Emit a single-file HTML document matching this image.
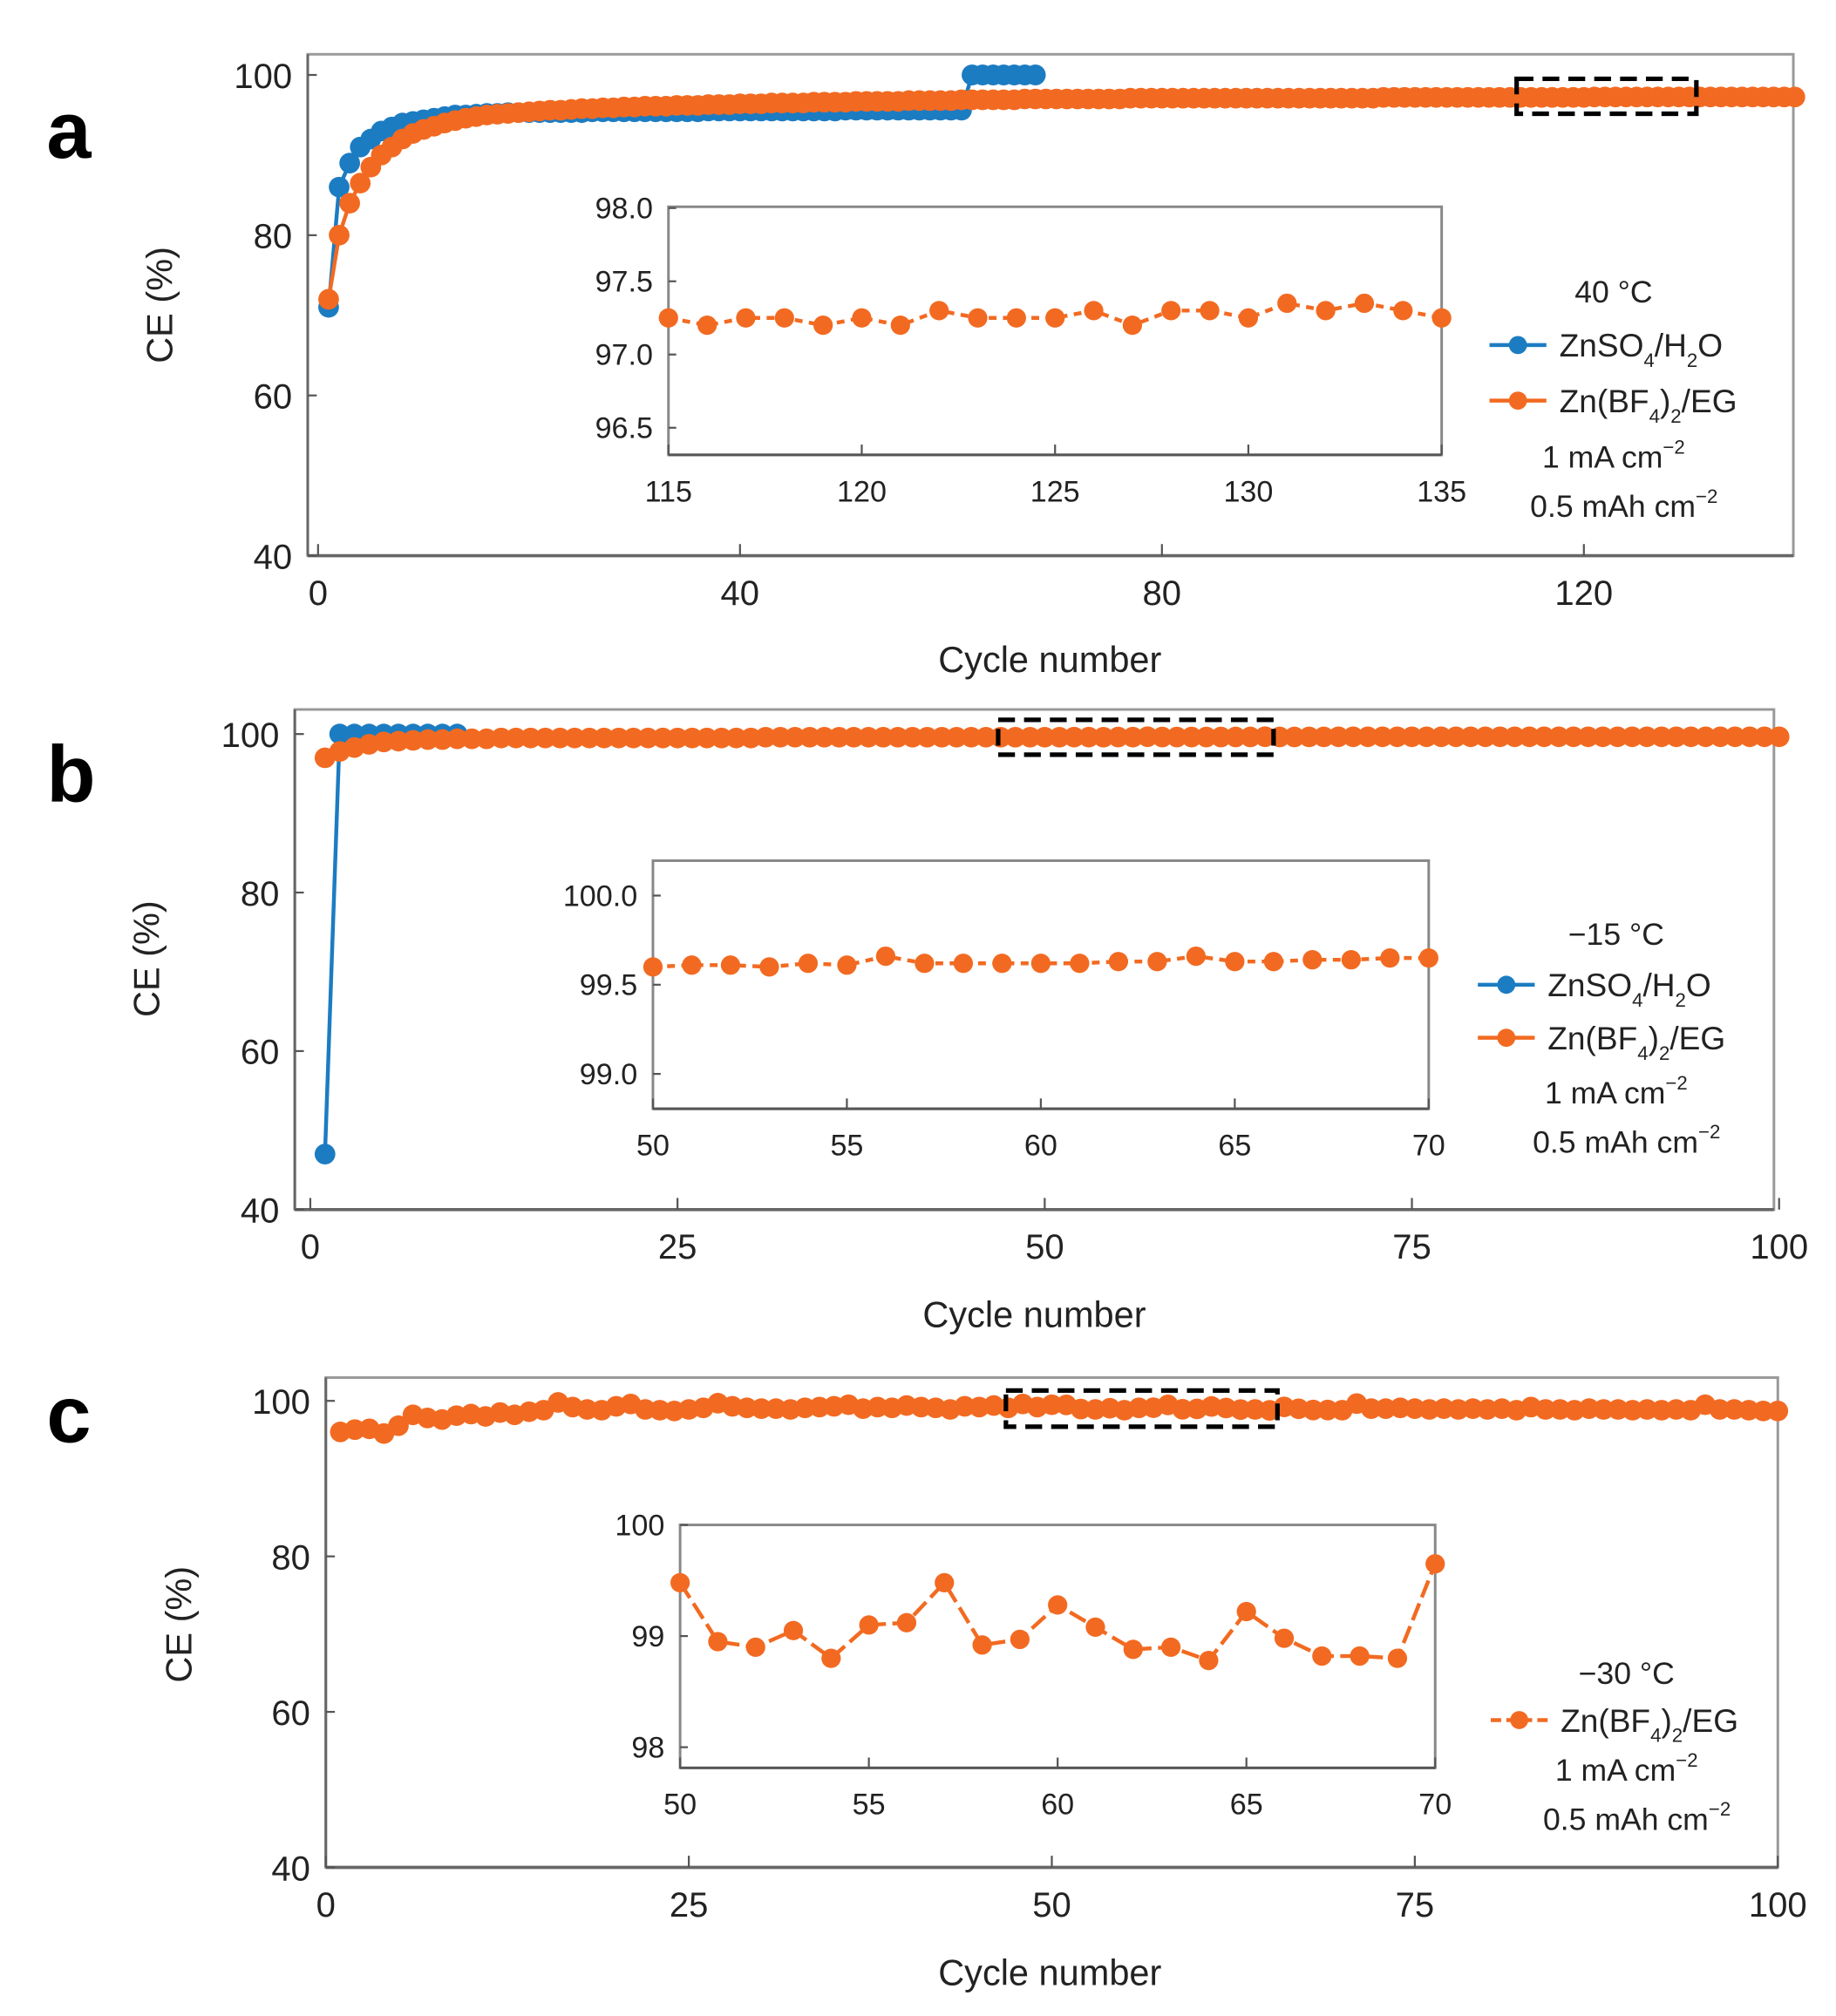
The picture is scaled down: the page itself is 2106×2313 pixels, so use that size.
<!DOCTYPE html>
<html><head><meta charset="utf-8"><style>
html,body{margin:0;padding:0;background:#fff;}
svg{display:block;font-family:"Liberation Sans",Arial,sans-serif;}
</style></head><body>
<svg id="fig" width="2106" height="2313" viewBox="0 0 1420 1560" preserveAspectRatio="none" xmlns="http://www.w3.org/2000/svg"></svg>
<script>
// ---- Panel a data ----
const aOrange = [72,80,84,86.5,88.5,90,91,92,92.7,93.2,93.6,94,94.3,94.6,94.8,95,95.1,95.2,95.3,95.4,95.5,95.6,95.6,95.7,95.8,95.8,95.9,95.9,96,96,96.1,96.1,96.1,96.2,96.2,96.2,96.3,96.3,96.3,96.4,
96.4,96.4,96.5,96.5,96.5,96.5,96.6,96.6,96.6,96.6,96.7,96.7,96.7,96.7,96.7,96.8,96.8,96.8,96.8,96.8,96.9,96.9,96.9,96.9,96.9,96.9,97,97,97,97,97,97,97,97,97,97,97.1,97.1,97.1,97.1,
97.1,97.1,97.1,97.1,97.1,97.1,97.1,97.1,97.1,97.1,97.1,97.1,97.1,97.1,97.1,97.1,97.1,97.1,97.1,97.1,97.2,97.2,97.2,97.2,97.2,97.2,97.2,97.2,97.2,97.2,97.2,97.2,97.2,97.2,97.2,97.2,97.2,97.2,97.2,97.2,97.25,97.25,97.25,97.25,97.25,97.25,97.25,97.25,97.25,97.25,97.25,97.25,97.25,97.25,97.25,97.25,97.25,97.25,97.25,97.25];
const aBlue = [71,86,89,91,92,93,93.5,94,94.2,94.4,94.6,94.8,95,95,95.1,95.2,95.2,95.3,95.3,95.3,
95.3,95.3,95.3,95.3,95.3,95.4,95.4,95.4,95.4,95.4,95.4,95.4,95.4,95.4,95.4,95.4,95.5,95.5,95.5,95.5,95.5,95.5,95.5,95.5,95.5,95.5,95.5,95.5,95.5,95.6,95.6,95.6,95.6,95.6,95.6,95.6,95.6,95.6,95.6,95.6,95.6,
100,100,100,100,100,100,100];
const aInsetX = [115,116,117,118,119,120,121,122,123,124,125,126,127,128,129,130,131,132,133,134,135];
const aInsetY = [97.25,97.2,97.25,97.25,97.2,97.25,97.2,97.3,97.25,97.25,97.25,97.3,97.2,97.3,97.3,97.25,97.35,97.3,97.35,97.3,97.25];
const aXTicks = [0,40,80,120];
const aYTicks = [40,60,80,100];
const aInsetXTicks = [115,120,125,130,135];
const aInsetYTicks = ["96.5","97.0","97.5","98.0"];
// ---- Panel b data ----
const bOrange = [97,97.8,98.3,98.7,99,99.1,99.2,99.3,99.3,99.4,
99.4,99.4,99.5,99.5,99.5,99.5,99.5,99.5,99.5,99.5,99.5,99.5,99.5,99.5,99.5,99.5,99.5,99.5,99.5,99.5,
99.6,99.6,99.6,99.6,99.6,99.6,99.6,99.6,99.6,99.6,99.6,99.6,99.6,99.6,99.6,99.6,99.6,99.6,99.6,99.6,
99.6,99.61,99.61,99.6,99.62,99.61,99.66,99.62,99.62,99.62,99.62,99.62,99.63,99.63,99.66,99.63,99.63,99.64,99.64,99.65,
99.65,99.65,99.65,99.65,99.65,99.65,99.65,99.65,99.65,99.65,99.65,99.65,99.65,99.65,99.65,99.65,99.65,99.65,99.65,99.65,
99.65,99.65,99.65,99.65,99.65,99.65,99.65,99.65,99.65,99.65];
const bBlue = [47,100,100,100,100,100,100,100,100,100];
const bInsetX = [50,51,52,53,54,55,56,57,58,59,60,61,62,63,64,65,66,67,68,69,70];
const bInsetY = [99.6,99.61,99.61,99.6,99.62,99.61,99.66,99.62,99.62,99.62,99.62,99.62,99.63,99.63,99.66,99.63,99.63,99.64,99.64,99.65,99.65];
const bXTicks = [0,25,50,75,100];
const bYTicks = [40,60,80,100];
const bInsetXTicks = [50,55,60,65,70];
const bInsetYTicks = ["99.0","99.5","100.0"];
// ---- Panel c data ----
const cOrange = [96,96.3,96.4,95.8,96.8,98.2,97.8,97.6,98.1,98.3,98,98.5,98.2,98.6,98.8,99.8,99.2,98.9,98.8,99.3,99.6,98.9,98.8,98.7,98.9,99.1,99.7,99.3,99.1,99,
99,98.9,99.1,99.2,99.3,99.5,99,99.2,99.1,99.4,99.2,99.1,98.9,99.3,99.2,99.4,99.1,99.6,99.2,99.5,
99.48,98.95,98.9,99.05,98.8,99.1,99.12,99.48,98.92,98.97,99.28,99.08,98.88,98.9,98.78,99.22,98.98,98.82,98.82,98.8,
99.65,99,99,99.1,99,98.9,99,98.9,99,98.9,99,98.8,99.2,98.9,98.9,98.8,99,98.9,98.9,98.8,
98.9,98.8,98.9,98.8,99.5,98.9,98.9,98.8,98.7,98.7];
const cInsetX = [50,51,52,53,54,55,56,57,58,59,60,61,62,63,64,65,66,67,68,69,70];
const cInsetY = [99.48,98.95,98.9,99.05,98.8,99.1,99.12,99.48,98.92,98.97,99.28,99.08,98.88,98.9,98.78,99.22,98.98,98.82,98.82,98.8,99.65];
const cXTicks = [0,25,50,75,100];
const cYTicks = [40,60,80,100];
const cInsetXTicks = [50,55,60,65,70];
const cInsetYTicks = ["98","99","100"];

const BLUE = "#1c7cc2", ORANGE = "#f26a21";
const NS = "http://www.w3.org/2000/svg";
const svg = document.getElementById('fig');
function mk(tag, attrs, parent, text){
  const e = document.createElementNS(NS, tag);
  for (const k in attrs) e.setAttribute(k, attrs[k]);
  if (text !== undefined) e.textContent = text;
  (parent || svg).appendChild(e);
  return e;
}
function lin(d0,d1,r0,r1){ return v => r0 + (v-d0)*(r1-r0)/(d1-d0); }

function series(g, xs, ys, X, Y, color, r, dash, name){
  const pts = xs.map((x,i)=>X(x).toFixed(2)+','+Y(ys[i]).toFixed(2)).join(' ');
  const pl = mk('polyline',{points:pts,fill:'none',stroke:color,'stroke-width':3,'stroke-dasharray':dash||'none'},g);
  
  
  xs.forEach((x,i)=>{
    const c = mk('circle',{cx:X(x),cy:Y(ys[i]),r:r,fill:color},g);
    
    
  });
}

function panel(p){
  const g = mk('g',{});
  
  
  const X = lin(p.x0,p.x1,p.px0,p.px1), Y = lin(p.y0,p.y1,p.py0,p.py1);
  const fr = mk('rect',{x:p.box[0],y:p.box[1],width:p.box[2]-p.box[0],height:p.box[3]-p.box[1],fill:'none',stroke:'#999','stroke-width':2},g);
   
  mk('line',{x1:p.box[0],y1:p.box[3],x2:p.box[2],y2:p.box[3],stroke:'#666','stroke-width':2.5},g);
  mk('line',{x1:p.box[0],y1:p.box[1],x2:p.box[0],y2:p.box[3],stroke:'#666','stroke-width':2},g);
  p.xt.forEach(v=>{
    mk('line',{x1:X(v),y1:p.box[3],x2:X(v),y2:p.box[3]-9,stroke:'#555','stroke-width':1.5},g);
    const t = mk('text',{x:X(v),y:p.box[3]+38,'font-size':27,'text-anchor':'middle',fill:'#222'},g,String(v));
     
  });
  p.yt.forEach(v=>{
    mk('line',{x1:p.box[0],y1:Y(v),x2:p.box[0]+7,y2:Y(v),stroke:'#555','stroke-width':1.5},g);
    const t = mk('text',{x:p.box[0]-12,y:Y(v)+10,'font-size':27,'text-anchor':'end',fill:'#222'},g,String(v));
     
  });
  const lbl = mk('text',{x:p.lblx,y:p.lbly,'font-size':62,'font-weight':'bold',fill:'#000'},g,p.id);
   
  const yl = mk('text',{x:0,y:0,'font-size':28,'text-anchor':'middle',fill:'#222',transform:`translate(${p.ylx},${p.yly}) rotate(-90)`},g,'CE (%)');
   
  const xl = mk('text',{x:p.xlx,y:p.xly,'font-size':28,'text-anchor':'middle',fill:'#222'},g,'Cycle number');
   
  if (p.blue){ series(g, p.blue.map((_,i)=>i+1), p.blue, X, Y, BLUE, 8, null, 'znso4-series'); }
  series(g, p.orange.map((_,i)=>i+1), p.orange, X, Y, ORANGE, 8, null, 'znbf4-series');
  if (p.blueOnTop){ series(g, p.blue.map((_,i)=>i+1).slice(-7), p.blue.slice(-7), X, Y, BLUE, 8, null, 'znso4-series'); }
  const dr = mk('rect',{x:p.dash[0],y:p.dash[1],width:p.dash[2]-p.dash[0],height:p.dash[3]-p.dash[1],fill:'none',stroke:'#000','stroke-width':3.5,'stroke-dasharray':'13,7'},g);
   
  const ins = p.inset;
  const ig = mk('g',{},g);
   
  const IX = lin(ins.x0,ins.x1,ins.box[0],ins.box[2]), IY = lin(ins.y0,ins.y1,ins.py0,ins.py1);
  mk('rect',{x:ins.box[0],y:ins.box[1],width:ins.box[2]-ins.box[0],height:ins.box[3]-ins.box[1],fill:'#fff',stroke:'#888','stroke-width':2},ig);
  mk('line',{x1:ins.box[0],y1:ins.box[3],x2:ins.box[2],y2:ins.box[3],stroke:'#555','stroke-width':2},ig);
  ins.xt.forEach(v=>{
    mk('line',{x1:IX(v),y1:ins.box[3],x2:IX(v),y2:ins.box[3]-8,stroke:'#555','stroke-width':1.5},ig);
    const t = mk('text',{x:IX(v),y:ins.box[3]+36,'font-size':23,'text-anchor':'middle',fill:'#222'},ig,String(v));
     
  });
  ins.yt.forEach(v=>{
    mk('line',{x1:ins.box[0],y1:IY(+v),x2:ins.box[0]+6,y2:IY(+v),stroke:'#555','stroke-width':1.5},ig);
    const t = mk('text',{x:ins.box[0]-12,y:IY(+v)+8,'font-size':23,'text-anchor':'end',fill:'#222'},ig,v);
     
  });
  series(ig, ins.xs, ins.ys, IX, IY, ORANGE, 7.5, ins.dashArr, 'inset-znbf4-series');
  const lg = mk('g',{},g);
   
  const L = p.leg;
  mk('text',{x:L.cx,y:L.ys[0],'font-size':24,'text-anchor':'middle',fill:'#222'},lg,L.temp);
  let k = 1;
  if (p.blue){
    mk('line',{x1:L.lx,y1:L.ys[1]-9,x2:L.lx+44,y2:L.ys[1]-9,stroke:BLUE,'stroke-width':3},lg);
    mk('circle',{cx:L.lx+22,cy:L.ys[1]-9,r:7,fill:BLUE},lg);
    const t = mk('text',{x:L.lx+54,y:L.ys[1],'font-size':25,fill:'#222'},lg);
     
    t.innerHTML = 'ZnSO<tspan font-size="15" dy="8">4</tspan><tspan dy="-8">/H</tspan><tspan font-size="15" dy="8">2</tspan><tspan dy="-8">O</tspan>';
    k = 2;
  }
  mk('line',{x1:L.lx,y1:L.ys[k]-9,x2:L.lx+44,y2:L.ys[k]-9,stroke:ORANGE,'stroke-width':3,'stroke-dasharray':p.blue?'none':'8,4'},lg);
  mk('circle',{cx:L.lx+22,cy:L.ys[k]-9,r:7,fill:ORANGE},lg);
  const t2 = mk('text',{x:L.lx+54,y:L.ys[k],'font-size':25,fill:'#222'},lg);
   
  t2.innerHTML = 'Zn(BF<tspan font-size="15" dy="8">4</tspan><tspan dy="-8">)</tspan><tspan font-size="15" dy="8">2</tspan><tspan dy="-8">/EG</tspan>';
  const t3 = mk('text',{x:L.cx,y:L.ys[k+1],'font-size':24,'text-anchor':'middle',fill:'#222'},lg);
  t3.innerHTML = '1 mA cm<tspan font-size="15" dy="-11">−2</tspan>';
  const t4 = mk('text',{x:L.cx+8,y:L.ys[k+2],'font-size':24,'text-anchor':'middle',fill:'#222'},lg);
  t4.innerHTML = '0.5 mAh cm<tspan font-size="15" dy="-11">−2</tspan>';
}

panel({id:'a', x0:0,x1:120,px0:246,px1:1225, y0:40,y1:100,py0:430,py1:58,
  box:[238,42,1387,430], xt:aXTicks, yt:aYTicks, orange:aOrange, blue:aBlue, blueOnTop:true,
  lblx:36,lbly:122, ylx:133,yly:236, xlx:812,xly:520, dash:[1173,61,1312,88],
  inset:{x0:115,x1:135,box:[517,160,1115,352],y0:96.5,y1:98,py0:331,py1:161,xt:aInsetXTicks,yt:aInsetYTicks,xs:aInsetX,ys:aInsetY,dashArr:'6,5'},
  leg:{cx:1248,lx:1152,temp:'40 °C',ys:[234,276,319,362,400]}});

panel({id:'b', x0:0,x1:100,px0:240,px1:1376, y0:40,y1:100,py0:936,py1:568,
  box:[228,549,1372,936], xt:bXTicks, yt:bYTicks, orange:bOrange, blue:bBlue, blueOnTop:false,
  lblx:36,lbly:620, ylx:123,yly:742, xlx:800,xly:1027, dash:[772,557,985,584],
  inset:{x0:50,x1:70,box:[505,666,1105,858],y0:99,y1:100,py0:831,py1:693,xt:bInsetXTicks,yt:bInsetYTicks,xs:bInsetX,ys:bInsetY,dashArr:'6,5'},
  leg:{cx:1250,lx:1143,temp:'−15 °C',ys:[731,771,812,854,892]}});

panel({id:'c', x0:0,x1:100,px0:252,px1:1375, y0:40,y1:100,py0:1445,py1:1084,
  box:[252,1066,1375,1445], xt:cXTicks, yt:cYTicks, orange:cOrange, blue:null, blueOnTop:false,
  lblx:36,lbly:1116, ylx:148,yly:1257, xlx:812,xly:1536, dash:[778,1076,988,1104],
  inset:{x0:50,x1:70,box:[526,1180,1110,1368],y0:98,y1:100,py0:1352,py1:1180,xt:cInsetXTicks,yt:cInsetYTicks,xs:cInsetX,ys:cInsetY,dashArr:'14,5'},
  leg:{cx:1258,lx:1153,temp:'−30 °C',ys:[1303,1340,1378,1416]}});
</script>
</body></html>
